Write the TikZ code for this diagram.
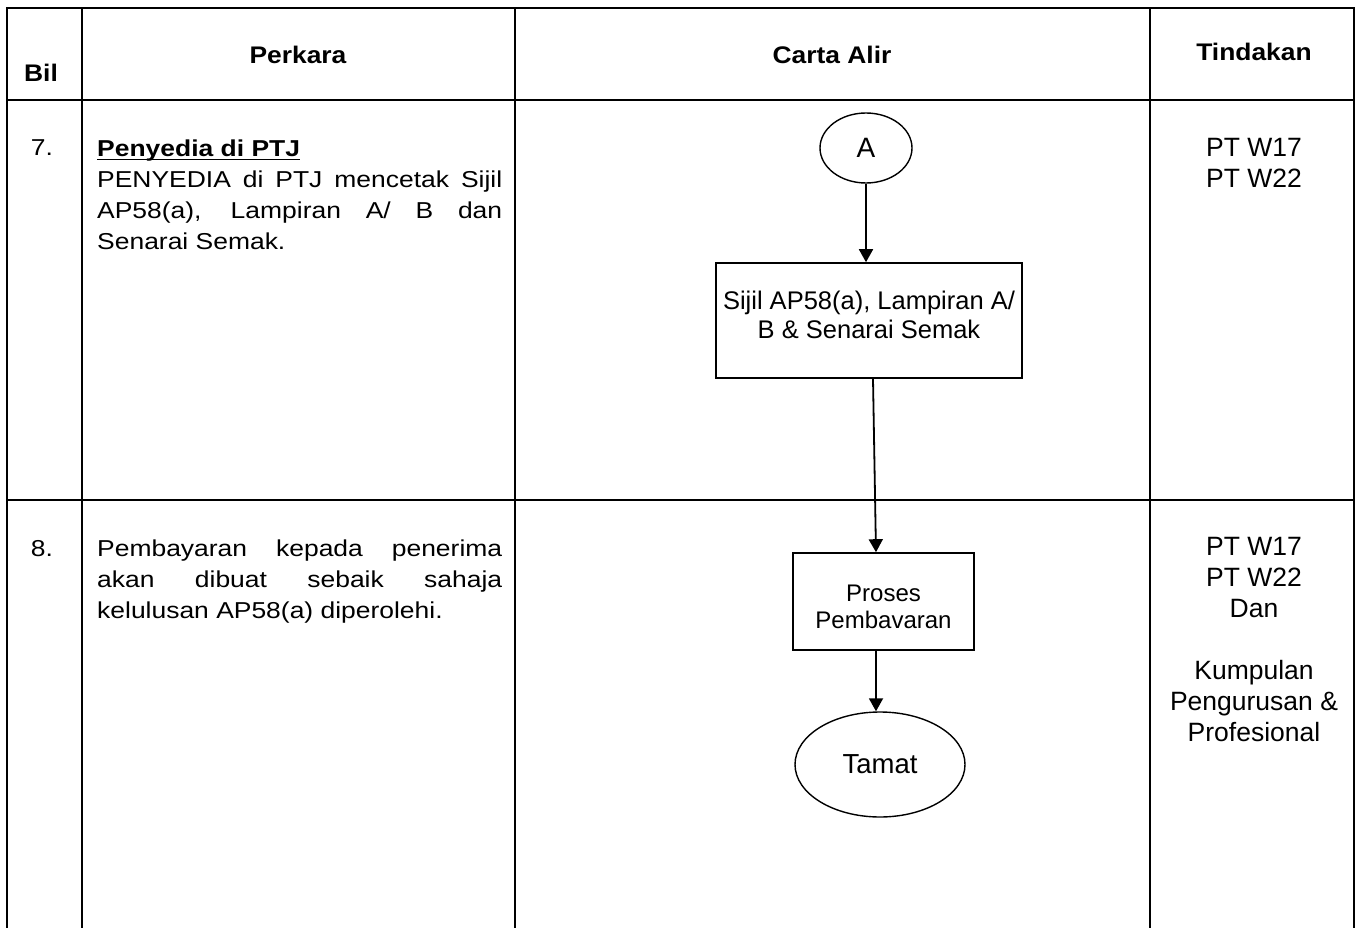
\documentclass[tikz,border=0pt]{standalone}
\usepackage{fontspec}
\setmainfont{Liberation Sans}
\newfontfamily\bodyfont[FakeStretch=1.15]{Liberation Sans}
\newfontfamily\hdrfont[FakeStretch=1.1]{Liberation Sans}
\newcommand\myuline[1]{\leavevmode\setbox0\hbox{#1}\rlap{\rule[-3.5pt]{\wd0}{1.6pt}}\box0}
\usetikzlibrary{arrows.meta,shapes.geometric}
\begin{document}
\begin{tikzpicture}[x=1pt,y=-1pt,
  grid/.style={line width=2pt},
  rowline/.style={line width=1.6pt},
  hdr/.style={font=\hdrfont\fontsize{24}{28}\selectfont\bfseries, inner sep=0, anchor=base},
  cell/.style={font=\bodyfont\fontsize{23}{31}\selectfont, inner sep=0},
  act/.style={font=\fontsize{26.5}{31}\selectfont, inner sep=0, align=center, anchor=north},
  flowbox/.style={draw, line width=1.6pt, rectangle, align=center, inner sep=0},
  term/.style={draw, line width=1.4pt, ellipse, inner sep=0},
  arr/.style={line width=1.8pt, -{Triangle[length=13pt,width=14pt]}}]
\useasboundingbox (0,0) rectangle (1358,928);

% table grid
\draw[grid] (7,928) -- (7,8) -- (1354,8) -- (1354,928);
\draw[grid] (82,8) -- (82,928);
\draw[grid] (515,8) -- (515,928);
\draw[grid] (1150,8) -- (1150,928);
\draw[grid] (7,100) -- (1354,100);
\draw[rowline] (7,500) -- (1354,500);

% headers
\node[hdr] (hbil) at (41,82) {Bil};
\node[hdr] (hperkara) at (298,64) {Perkara};
\node[hdr] (hcarta) at (832,64) {Carta Alir};
\node[hdr] (htind) at (1254,61) {Tindakan};

% row numbers
\node[cell, anchor=base] (n7) at (42,156) {7.};
\node[cell, anchor=base] (n8) at (42,556) {8.};

% perkara texts
\node[cell, anchor=north west, text width=405pt, align=justify] (p7) at (97,140)
  {\myuline{\bfseries Penyedia di PTJ}\\
   PENYEDIA di PTJ mencetak Sijil\linebreak AP58(a), Lampiran A/ B dan\linebreak Senarai Semak.};
\node[cell, anchor=north west, text width=405pt, align=justify] (p8) at (97,540)
  {Pembayaran kepada penerima\linebreak akan dibuat sebaik sahaja\linebreak kelulusan AP58(a) diperolehi.};

% tindakan texts
\node[act] (t7) at (1254,138) {PT W17\\PT W22};
\node[act] (t8) at (1254,537) {PT W17\\PT W22\\Dan\\[31pt]Kumpulan\\Pengurusan \&\\Profesional};

% flowchart
\node[term, minimum width=92pt, minimum height=70pt, font=\fontsize{28}{30}\selectfont] (a) at (866,148) {A};
\node[flowbox, minimum width=306pt, minimum height=115pt, font=\fontsize{25.5}{29}\selectfont] (sijil) at (869,320.5)
  {Sijil AP58(a), Lampiran A/\\B \& Senarai Semak\rule[-12pt]{0pt}{12pt}};
\node[flowbox, minimum width=181pt, minimum height=97pt, font=\fontsize{24}{27}\selectfont] (proses) at (883.5,601.5)
  {\rule{0pt}{27pt}Proses\\Pembavaran};
\node[term, minimum width=170pt, minimum height=105pt, font=\fontsize{27.5}{30}\selectfont] (tamat) at (880,764.5) {Tamat};

\draw[arr] (a.south) -- (a.south |- sijil.north);
\draw[arr] ([xshift=4pt]sijil.south) -- ([xshift=-7.5pt]proses.north);
\draw[arr] ([xshift=-7.5pt]proses.south) -- ([xshift=-7.5pt]proses.south |- tamat.north);
\end{tikzpicture}
\end{document}
